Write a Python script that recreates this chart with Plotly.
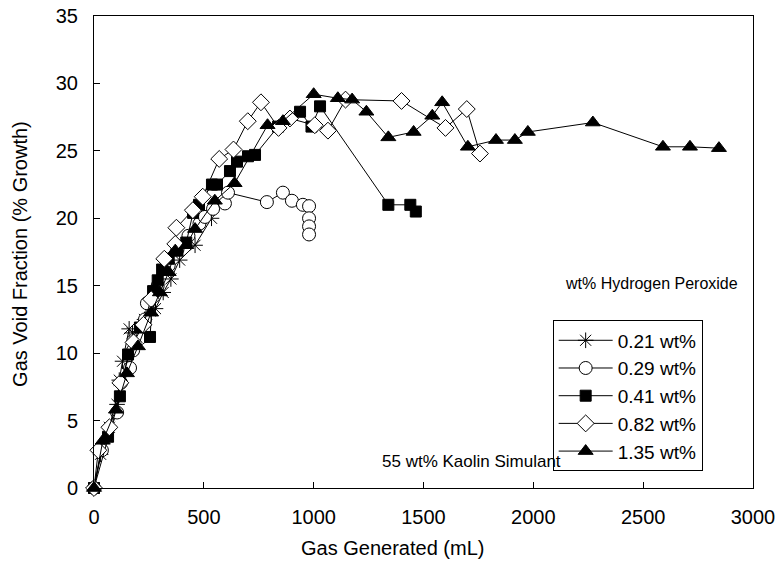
import plotly.graph_objects as go

# 0.21 wt% H2O2
gas_021 = [0, 30, 70, 105, 115, 130, 160, 175, 230, 280, 315, 350, 390, 460, 535]
void_021 = [0, 2.5, 4.5, 6.2, 8.0, 9.4, 11.8, 11.5, 12.5, 13.3, 14.5, 15.5, 16.9, 18.0, 20.0]

# 0.29 wt%
gas_029 = [0, 36, 105, 123, 164, 178, 209, 232, 241, 290, 340, 380, 430, 480, 505, 542,
           596, 610, 787, 860, 901, 951, 979, 979, 979, 979]
void_029 = [0, 2.8, 5.6, 7.8, 8.9, 10.2, 11.1, 12.5, 13.7, 15.0, 16.5, 17.7, 18.7, 19.6, 20.1, 20.7,
            21.1, 21.9, 21.2, 21.9, 21.3, 21.0, 20.9, 20.0, 19.4, 18.8]

# 0.41 wt%
gas_041 = [0, 64, 118, 155, 209, 255, 269, 290, 310, 340, 380, 420, 451, 478, 537, 560,
           619, 651, 701, 733, 838, 938, 990, 1029, 1340, 1440, 1465]
void_041 = [0, 3.8, 6.8, 9.9, 11.9, 11.2, 14.6, 15.4, 16.2, 17.0, 17.6, 18.2, 20.4, 21.0, 22.5, 22.5,
            23.5, 24.2, 24.6, 24.7, 26.8, 27.9, 26.8, 28.3, 21.0, 21.0, 20.5]

# 0.82 wt%
gas_082 = [0, 20, 70, 120, 180, 225, 260, 320, 370, 375, 450, 495, 570, 635, 700, 760,
           840, 892, 1005, 1065, 1145, 1400, 1600, 1697, 1757]
void_082 = [0, 2.8, 4.5, 7.8, 10.8, 12.1, 14.0, 17.0, 18.1, 19.3, 20.6, 21.6, 24.4, 25.1, 27.2, 28.6,
            26.7, 27.4, 26.9, 26.5, 28.8, 28.7, 26.7, 28.1, 24.8]

# 1.35 wt%
gas_135 = [0, 40, 100, 150, 200, 260, 300, 340, 370, 420, 460, 550, 640, 790, 860, 1000,
           1110, 1175, 1240, 1340, 1455, 1540, 1585, 1702, 1830, 1916, 1975, 2271, 2590, 2713, 2845]
void_135 = [0, 3.5, 5.8, 8.5, 10.5, 13.0, 14.5, 16.0, 17.6, 18.0, 19.2, 21.3, 22.6, 26.9, 27.2, 29.2,
            28.9, 28.8, 27.9, 26.0, 26.4, 27.6, 28.6, 25.3, 25.8, 25.8, 26.4, 27.1, 25.3, 25.3, 25.2]

series = [
    ("0.21 wt%", gas_021, void_021, "asterisk-open", 13, "black"),
    ("0.29 wt%", gas_029, void_029, "circle", 13, "white"),
    ("0.41 wt%", gas_041, void_041, "square", 11, "black"),
    ("0.82 wt%", gas_082, void_082, "diamond", 13, "white"),
    ("1.35 wt%", gas_135, void_135, "triangle-up", 13, "black"),
]

FONT = "Liberation Sans, Arial, sans-serif"

fig = go.Figure()
for name, xs, ys, symbol, size, fill in series:
    fig.add_trace(go.Scatter(
        x=xs, y=ys, name=name, mode="lines+markers",
        line=dict(color="black", width=1),
        marker=dict(symbol=symbol, size=size, color=fill,
                    line=dict(color="black", width=1)),
        cliponaxis=False,
    ))

axis_style = dict(
    showline=True, linecolor="black", linewidth=1, mirror=True,
    ticks="inside", ticklen=6, tickcolor="black",
    showgrid=False, zeroline=False, automargin=False,
    tickfont=dict(family=FONT, size=20, color="black"),
)

fig.update_layout(
    width=778, height=571,
    margin=dict(l=94, r=25, t=16, b=83),
    paper_bgcolor="white", plot_bgcolor="white",
    font=dict(family=FONT, size=17, color="black"),
    xaxis=dict(range=[0, 3000], dtick=500, ticklabelstandoff=11, **axis_style),
    yaxis=dict(range=[0, 35], dtick=5, ticklabelstandoff=11, **axis_style),
    legend=dict(x=0.696, y=0.355, xanchor="left", yanchor="top",
                bordercolor="black", borderwidth=1, bgcolor="white",
                font=dict(family=FONT, size=19), tracegroupgap=0,
                itemwidth=54),
    showlegend=True,
    annotations=[
        dict(x=0.4537, y=-0.127, xref="paper", yref="paper", text="Gas Generated (mL)",
             xanchor="center", yanchor="middle",
             showarrow=False, font=dict(family=FONT, size=20)),
        dict(x=-0.1123, y=0.496, xref="paper", yref="paper", text="Gas Void Fraction (% Growth)",
             xanchor="center", yanchor="middle",
             textangle=-90, showarrow=False, font=dict(family=FONT, size=20)),
        dict(x=1720, y=2.0, xref="x", yref="y", text="55 wt% Kaolin Simulant",
             xanchor="center", yanchor="middle",
             showarrow=False, font=dict(family=FONT, size=17)),
        dict(x=2540, y=15.2, xref="x", yref="y", text="wt% Hydrogen Peroxide",
             xanchor="center", yanchor="middle",
             showarrow=False, font=dict(family=FONT, size=16)),
    ],
)

# drop the default 8px page margin so the figure fills the window exactly
fig.write_html("out.html", config={"displayModeBar": False},
               post_script="document.body.style.margin='0';")
